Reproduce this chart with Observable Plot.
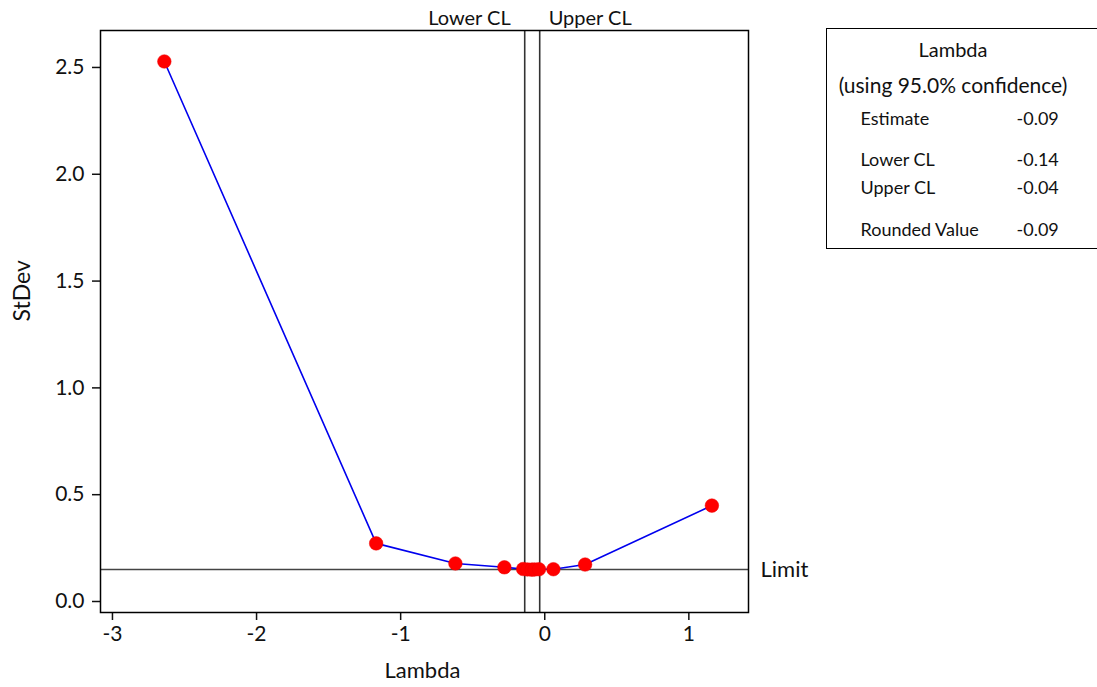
<!DOCTYPE html>
<html>
<head>
<meta charset="utf-8">
<script src="https://cdn.jsdelivr.net/npm/d3@7"></script>
<script src="https://cdn.jsdelivr.net/npm/@observablehq/plot@0.6"></script>
<style>
  body { margin: 0; background: #fff; font-family: Lato, "Open Sans", sans-serif; }
  #wrap { position: relative; width: 1097px; height: 687px; }
  #legend { position: absolute; left: 826px; top: 28px; width: 275px; height: 221px; border: 1.5px solid #000; box-sizing: border-box; color: #111; }
  #legend span { position: absolute; white-space: nowrap; line-height: 1.2; }
</style>
</head>
<body>
<div id="wrap">
  <div id="chart"></div>
  <div id="legend"></div>
</div>
<script>
const lambdaValues = [-2.64, -1.17, -0.62, -0.28, -0.15, -0.12, -0.09, -0.07, -0.04, 0.06, 0.28, 1.16];
const stdevValues  = [2.528, 0.272, 0.178, 0.160, 0.152, 0.150, 0.149, 0.150, 0.151, 0.151, 0.173, 0.449];
const xTicks = [-3, -2, -1, 0, 1];
const yTicks = [0, 0.5, 1.0, 1.5, 2.0, 2.5];
const lowerCL = -0.139;
const upperCL = -0.035;
const limitValue = 0.150;
const legendTitle = "Lambda";
const legendSubtitle = "(using 95.0% confidence)";
const legendLabels = ["Estimate", "Lower CL", "Upper CL", "Rounded Value"];
const legendValues = ["-0.09", "-0.14", "-0.04", "-0.09"];

const data = lambdaValues.map((x, i) => ({x, y: stdevValues[i]}));

const chart = Plot.plot({
  width: 1097,
  height: 687,
  marginLeft: 100,
  marginRight: 349,
  marginTop: 30,
  marginBottom: 75,
  style: {fontFamily: "Lato, 'Open Sans', sans-serif", fontSize: "21px", color: "#111", background: "#fff"},
  x: {domain: [-3.083, 1.414]},
  y: {domain: [-0.0515, 2.673]},
  marks: [
    Plot.axisX({ticks: xTicks, tickSize: 8, tickPadding: 6, label: null, tickFormat: d => String(d), strokeWidth: 1.5, fontSize: 21}),
    Plot.axisY({ticks: yTicks, tickSize: 8, tickPadding: 8, label: null, tickFormat: d3.format(".1f"), strokeWidth: 1.5, fontSize: 21}),
    Plot.ruleY([limitValue], {stroke: "#444", strokeWidth: 1.5}),
    Plot.ruleX([lowerCL, upperCL], {stroke: "#333", strokeWidth: 1.6}),
    Plot.line(data, {x: "x", y: "y", stroke: "#0000ee", strokeWidth: 1.6}),
    Plot.dot(data, {x: "x", y: "y", r: 6.8, fill: "#ff0000", stroke: "#ee0000", strokeWidth: 0.5}),
    Plot.frame({stroke: "#000", strokeWidth: 1.5}),
    Plot.text(["Limit"], {x: 1.414, y: limitValue, dx: 12, textAnchor: "start", fontSize: 22, letterSpacing: "1px", clip: false}),
    Plot.text(["Lower CL"], {x: lowerCL, frameAnchor: "top", lineAnchor: "middle", dy: -12, dx: -14, textAnchor: "end", fontSize: 20}),
    Plot.text(["Upper CL"], {x: upperCL, frameAnchor: "top", lineAnchor: "middle", dy: -12, dx: 9, textAnchor: "start", fontSize: 20}),
    Plot.text(["Lambda"], {frameAnchor: "bottom", lineAnchor: "middle", dx: -2, dy: 58, fontSize: 22, letterSpacing: "1px"}),
    Plot.text(["StDev"], {frameAnchor: "left", lineAnchor: "middle", dx: -78, dy: 0, rotate: -90, fontSize: 23})
  ]
});
document.getElementById("chart").appendChild(chart);

const legend = document.getElementById("legend");
function addSpan(text, left, top, size, center) {
  const s = document.createElement("span");
  s.textContent = text;
  s.style.fontSize = size + "px";
  s.style.top = top + "px";
  if (center) { s.style.left = "0"; s.style.width = "252px"; s.style.textAlign = "center"; }
  else s.style.left = left + "px";
  legend.appendChild(s);
}
addSpan(legendTitle, 0, 7.5, 20, true);
addSpan(legendSubtitle, 0, 43, 21, true);
const rowTops = [78.5, 119.5, 147.5, 189.5];
legendLabels.forEach((lab, i) => {
  addSpan(lab, 33.5, rowTops[i], 18);
  addSpan(legendValues[i], 189.5, rowTops[i], 18);
});
</script>
</body>
</html>
